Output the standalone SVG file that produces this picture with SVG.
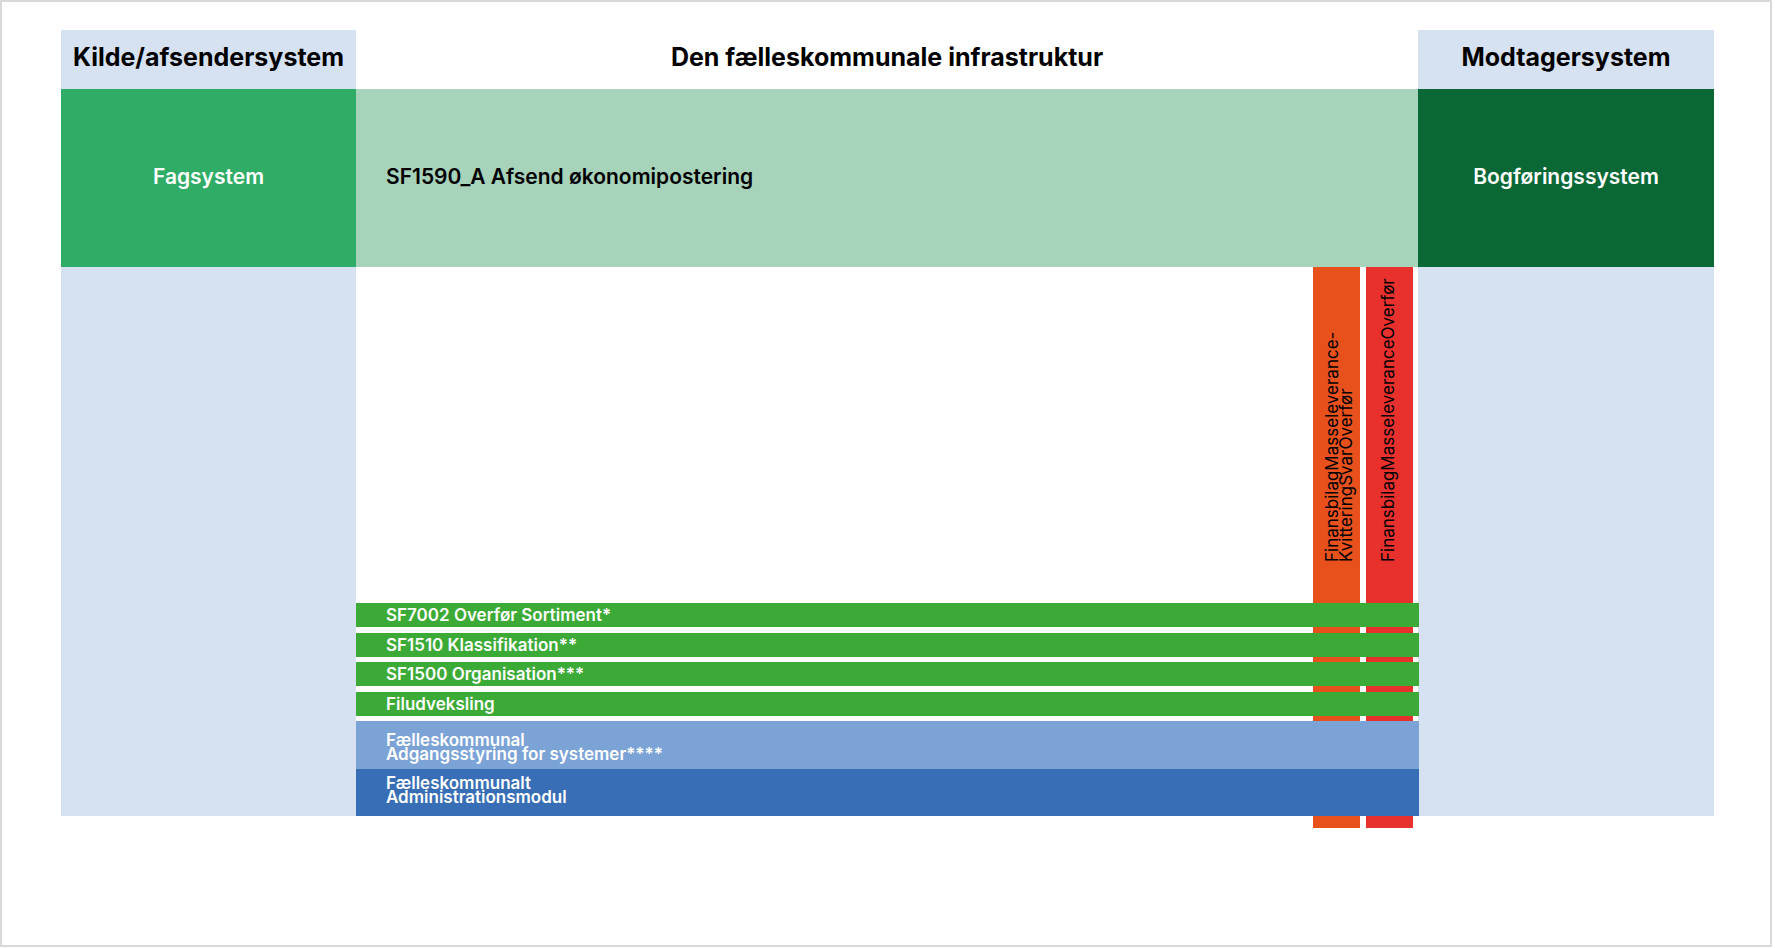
<svg xmlns="http://www.w3.org/2000/svg" width="1775" height="948" viewBox="0 0 1775 948">
<style>
text{font-family:Inter,"Noto Sans","Liberation Sans",sans-serif}
.hd{font-size:25px;font-weight:700;fill:#000;text-anchor:middle}
.bx{font-size:21px;font-weight:600}
.wt{fill:#fff}
.bk{fill:#000}
.bar{font-size:17px;font-weight:600;fill:#fff}
.vt{font-size:17px;font-weight:400;fill:#000}
.lb{fill:#d6e1f2}
</style>
<rect x="1" y="1" width="1770" height="945" fill="#fff" stroke="#d9d9d9" stroke-width="2"/>
<g id="col-source">
<rect class="lb" x="61" y="30" width="295" height="786"/>
<text class="hd" x="208.5" y="66">Kilde/afsendersystem</text>
</g>
<g id="col-infra-header">
<text class="hd" x="887" y="66">Den fælleskommunale infrastruktur</text>
</g>
<g id="col-receiver">
<rect class="lb" x="1418" y="30" width="296" height="786"/>
<text class="hd" x="1566" y="66">Modtagersystem</text>
</g>
<g id="node-fagsystem">
<rect x="61" y="89" width="295" height="178" fill="#2fad67"/>
<text class="bx wt" x="208.5" y="184" text-anchor="middle">Fagsystem</text>
</g>
<g id="node-sf1590">
<rect x="356" y="89" width="1062" height="178" fill="#a7d3bb"/>
<text class="bx bk" x="386" y="184">SF1590_A Afsend økonomipostering</text>
</g>
<g id="node-bogforing">
<rect x="1418" y="89" width="296" height="178" fill="#0a6837"/>
<text class="bx wt" x="1566" y="184" text-anchor="middle">Bogføringssystem</text>
</g>
<g id="node-kvittering">
<rect x="1313" y="267" width="47" height="561" fill="#e8501c"/>
<text class="vt" transform="translate(1337.7,562) rotate(-90)">FinansbilagMasseleverance-</text>
<text class="vt" transform="translate(1351.7,562) rotate(-90)">KvitteringSvarOverfør</text>
</g>
<g id="node-overfor">
<rect x="1366" y="267" width="47" height="561" fill="#e8312d"/>
<text class="vt" transform="translate(1394.3,562) rotate(-90)">FinansbilagMasseleveranceOverfør</text>
</g>
<g id="node-sf7002">
<rect x="356" y="603" width="1063" height="24" fill="#3caa36"/>
<text class="bar" x="386" y="621">SF7002 Overfør Sortiment*</text>
</g>
<g id="node-sf1510">
<rect x="356" y="633" width="1063" height="24" fill="#3caa36"/>
<text class="bar" x="386" y="651">SF1510 Klassifikation**</text>
</g>
<g id="node-sf1500">
<rect x="356" y="662" width="1063" height="24" fill="#3caa36"/>
<text class="bar" x="386" y="680">SF1500 Organisation***</text>
</g>
<g id="node-filudveksling">
<rect x="356" y="692" width="1063" height="24" fill="#3caa36"/>
<text class="bar" x="386" y="710">Filudveksling</text>
</g>
<g id="node-adgangsstyring">
<rect x="356" y="721" width="1063" height="48" fill="#7ba3d6"/>
<text class="bar" x="386" y="746">Fælleskommunal</text>
<text class="bar" x="386" y="760">Adgangsstyring for systemer****</text>
</g>
<g id="node-administrationsmodul">
<rect x="356" y="769" width="1063" height="47" fill="#386eb5"/>
<text class="bar" x="386" y="789">Fælleskommunalt</text>
<text class="bar" x="386" y="803">Administrationsmodul</text>
</g>
<g id="connectors"></g>
</svg>
